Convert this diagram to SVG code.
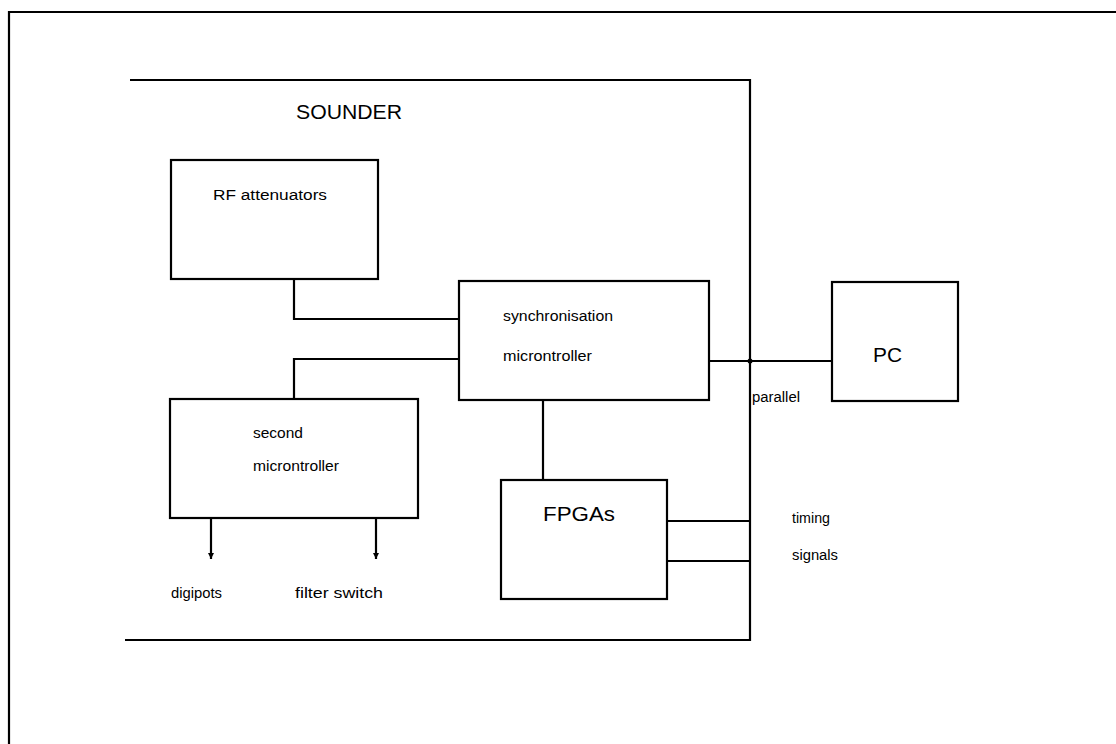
<svg xmlns="http://www.w3.org/2000/svg" width="1116" height="744" viewBox="0 0 1116 744">
<defs>
<style>
.ln{fill:none;stroke:#000;stroke-width:2.2}
.box{fill:#fff;stroke:#000;stroke-width:2.2}
.t{font-family:"Liberation Sans",Arial,sans-serif;fill:#000;font-size:14px}
.tl{font-family:"Liberation Sans",Arial,sans-serif;fill:#000;font-size:21px}
</style>
<marker id="ah" viewBox="0 0 10 10" refX="10" refY="5" markerWidth="7" markerHeight="6" orient="auto" markerUnits="userSpaceOnUse">
<path d="M0,0 L10,5 L0,10 z" fill="#000"/>
</marker>
</defs>
<rect width="1116" height="744" fill="#fff"/>
<g id="frame">
<path class="ln" d="M9,744 L9,12 L1116,12"/>
</g>
<g id="sounder">
<path class="ln" d="M130,80 L750,80 L750,640 L125,640"/>
<text class="tl" x="296" y="119" textLength="106" lengthAdjust="spacingAndGlyphs">SOUNDER</text>
</g>
<g id="connectors">
<path class="ln" d="M294,279 L294,319 L459,319"/>
<path class="ln" d="M459,359 L294,359 L294,399"/>
<path class="ln" d="M709,361 L832,361"/>
<circle cx="750" cy="361" r="2.5" fill="#000"/>
<path class="ln" d="M543,400 L543,480"/>
<path class="ln" d="M667,521 L750,521"/>
<path class="ln" d="M667,561 L750,561"/>
<path class="ln" d="M211,518 L211,559" marker-end="url(#ah)"/>
<path class="ln" d="M376,518 L376,559" marker-end="url(#ah)"/>
</g>
<g id="rf">
<rect class="box" x="171" y="160" width="207" height="119"/>
<text class="t" x="213" y="200" textLength="114" lengthAdjust="spacingAndGlyphs">RF  attenuators</text>
</g>
<g id="sync">
<rect class="box" x="459" y="281" width="250" height="119"/>
<text class="t" x="503" y="321" textLength="110" lengthAdjust="spacingAndGlyphs">synchronisation</text>
<text class="t" x="503" y="361" textLength="89" lengthAdjust="spacingAndGlyphs">microntroller</text>
</g>
<g id="second">
<rect class="box" x="170" y="399" width="248" height="119"/>
<text class="t" x="253" y="438" textLength="50" lengthAdjust="spacingAndGlyphs">second</text>
<text class="t" x="253" y="471" textLength="86" lengthAdjust="spacingAndGlyphs">microntroller</text>
</g>
<g id="pc">
<rect class="box" x="832" y="282" width="126" height="119"/>
<text class="tl" x="873" y="362" textLength="29" lengthAdjust="spacingAndGlyphs">PC</text>
</g>
<g id="fpga">
<rect class="box" x="501" y="480" width="166" height="119"/>
<text class="tl" x="543" y="521" textLength="72" lengthAdjust="spacingAndGlyphs">FPGAs</text>
</g>
<g id="labels">
<text class="t" x="752" y="402" textLength="48" lengthAdjust="spacingAndGlyphs">parallel</text>
<text class="t" x="792" y="523" textLength="38" lengthAdjust="spacingAndGlyphs">timing</text>
<text class="t" x="792" y="560" textLength="46" lengthAdjust="spacingAndGlyphs">signals</text>
<text class="t" x="171" y="598" textLength="51" lengthAdjust="spacingAndGlyphs">digipots</text>
<text class="t" x="295" y="598" textLength="88" lengthAdjust="spacingAndGlyphs">filter  switch</text>
</g>
</svg>
